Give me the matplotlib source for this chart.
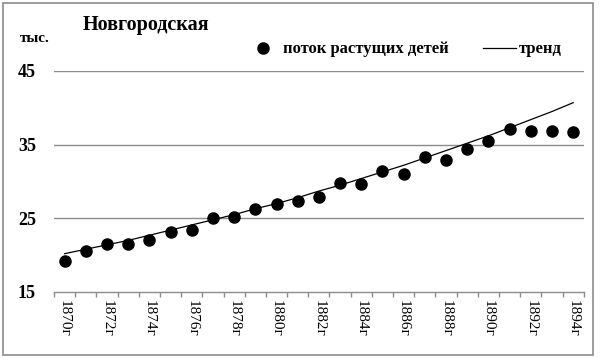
import matplotlib
matplotlib.use("Agg")
import matplotlib.pyplot as plt
from matplotlib.patches import Rectangle
from matplotlib.lines import Line2D

years = list(range(1870, 1895))
tick_labels = [f"{y}г" for y in years]
flow = [19.2, 20.6, 21.5, 21.5, 22.1, 23.1, 23.4, 25.1, 25.2, 26.2, 26.9, 27.4,
        27.9, 29.8, 29.7, 31.4, 31.0, 33.3, 32.9, 34.4, 35.5, 37.1, 36.8, 36.8, 36.7]
trend = [20.2, 20.8, 21.4, 22.0, 22.7, 23.4, 24.1, 24.8, 25.5, 26.3, 27.0, 27.8,
         28.7, 29.5, 30.4, 31.3, 32.2, 33.2, 34.2, 35.2, 36.2, 37.3, 38.4, 39.5, 40.7]
y_ticks = [15, 25, 35, 45]
title = "Новгородская"
unit = "тыс."
legend_labels = ["поток растущих детей", "тренд"]

serif = ["Liberation Serif", "DejaVu Serif"]
plt.rcParams['font.family'] = serif

fig = plt.figure(figsize=(6, 3.58), dpi=100)
ax = fig.add_axes([0.09, 0.1844, 0.883, 0.6173])

x = list(range(len(years)))
ax.plot(x, trend, color="black", lw=0.9, zorder=3)
ax.plot(x, flow, "o", color="black", ms=8, zorder=4, linestyle="none")

ax.set_xlim(-0.5, len(years) - 0.5)
ax.set_ylim(15, 45)
ax.set_yticks(y_ticks)
ax.set_yticklabels([str(v) for v in y_ticks], fontsize=13, fontweight="bold")
for v in y_ticks[1:]:
    ax.axhline(v, color="#8c8c8c", lw=1.0, zorder=1)
ax.tick_params(axis="y", length=0, pad=13)

ax.set_xticks([i - 0.5 for i in range(len(years) + 1)], minor=True)
ax.set_xticks(x[::2])
ax.set_xticklabels(tick_labels[::2], rotation=-90, fontsize=11)
ax.tick_params(axis="x", which="major", length=0, pad=6)
ax.tick_params(axis="x", which="minor", length=3.5, color="#8c8c8c", width=1, direction="out")

for s in ["top", "right", "left"]:
    ax.spines[s].set_visible(False)
ax.spines["bottom"].set_color("#8c8c8c")
ax.spines["bottom"].set_linewidth(1.0)

fig.text(0.138, 0.93, title, fontsize=14.5, fontweight="bold", ha="left", va="center")
fig.text(0.033, 0.893, unit, fontsize=11, fontweight="bold", ha="left", va="center")

handles = [Line2D([], [], marker="o", color="black", ms=8, linestyle="none"),
           Line2D([], [], color="black", lw=0.9)]
leg = fig.legend(handles, legend_labels, loc="center", bbox_to_anchor=(0.674, 0.862),
                 ncol=2, frameon=False, prop={"family": serif, "weight": "bold", "size": 12},
                 handlelength=2.0, handletextpad=0.2, columnspacing=2.0)

fig.patches.append(Rectangle((0.005, 0.008), 0.983, 0.983, transform=fig.transFigure,
                             fill=False, edgecolor="#8c8c8c", lw=1.2))

fig.savefig("out.png", dpi=100)
